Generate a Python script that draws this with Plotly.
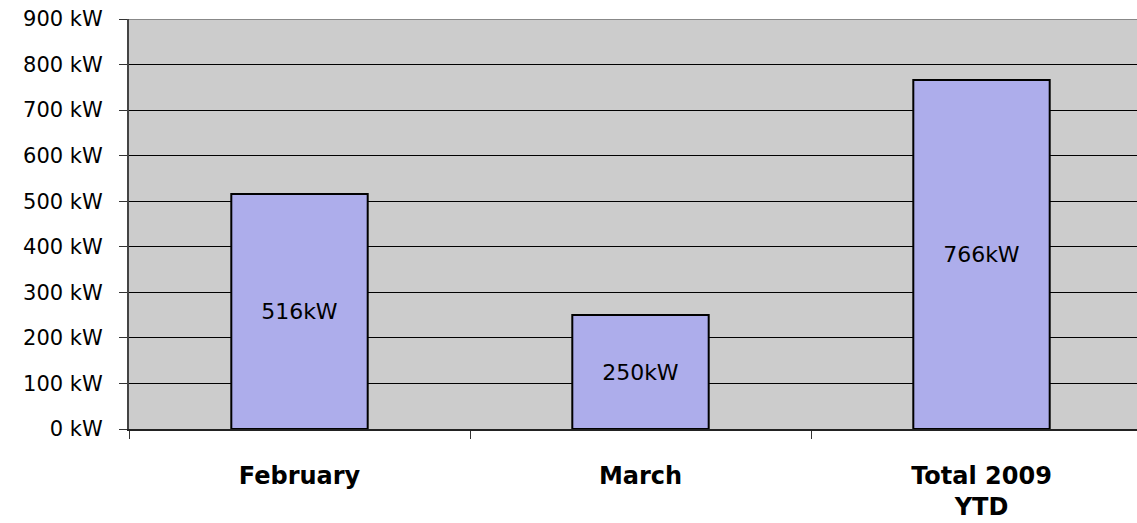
import plotly.graph_objects as go

categories = ["February", "March", "Total 2009<br>YTD"]
values = [516, 250, 766]
bar_labels = ["516kW", "250kW", "766kW"]
y_ticks = [0, 100, 200, 300, 400, 500, 600, 700, 800, 900]
y_tick_labels = [f"{v} kW" for v in y_ticks]

FONT = "DejaVu Sans"

fig = go.Figure()
fig.add_trace(go.Bar(
    x=categories,
    y=values,
    text=bar_labels,
    textposition="inside",
    insidetextanchor="middle",
    textfont=dict(family=FONT, size=22, color="black"),
    marker=dict(color="#ADADEB", line=dict(color="black", width=2)),
    width=0.4,
    hoverinfo="skip",
))

fig.update_layout(
    width=1137,
    height=523,
    margin=dict(l=129, r=0, t=19, b=94),
    paper_bgcolor="white",
    plot_bgcolor="#CCCCCC",
    showlegend=False,
    font=dict(family=FONT, color="black"),
)

fig.update_xaxes(
    type="category",
    range=[-0.5, 2.456],
    automargin=False,
    tickson="boundaries",
    ticks="outside",
    ticklen=8,
    tickcolor="#333333",
    tickwidth=1,
    showline=True,
    linecolor="#222222",
    linewidth=2,
    showgrid=False,
    tickfont=dict(family=FONT, size=24, color="black", weight="bold"),
    ticklabelstandoff=24,
)

fig.update_yaxes(
    range=[0, 900],
    automargin=False,
    tickvals=y_ticks,
    ticktext=y_tick_labels,
    ticks="outside",
    ticklen=8,
    tickcolor="#333333",
    showline=True,
    linecolor="#444444",
    linewidth=2,
    showgrid=True,
    gridcolor="black",
    gridwidth=1,
    zeroline=False,
    tickfont=dict(family=FONT, size=21, color="black"),
    ticklabelstandoff=12,
)

fig.add_shape(type="line", xref="paper", yref="y", x0=0, x1=1, y0=900, y1=900,
              line=dict(color="#888888", width=2), layer="above")

fig.write_html("out.html", config={"displayModeBar": False},
               post_script="document.body.style.margin='0';")
